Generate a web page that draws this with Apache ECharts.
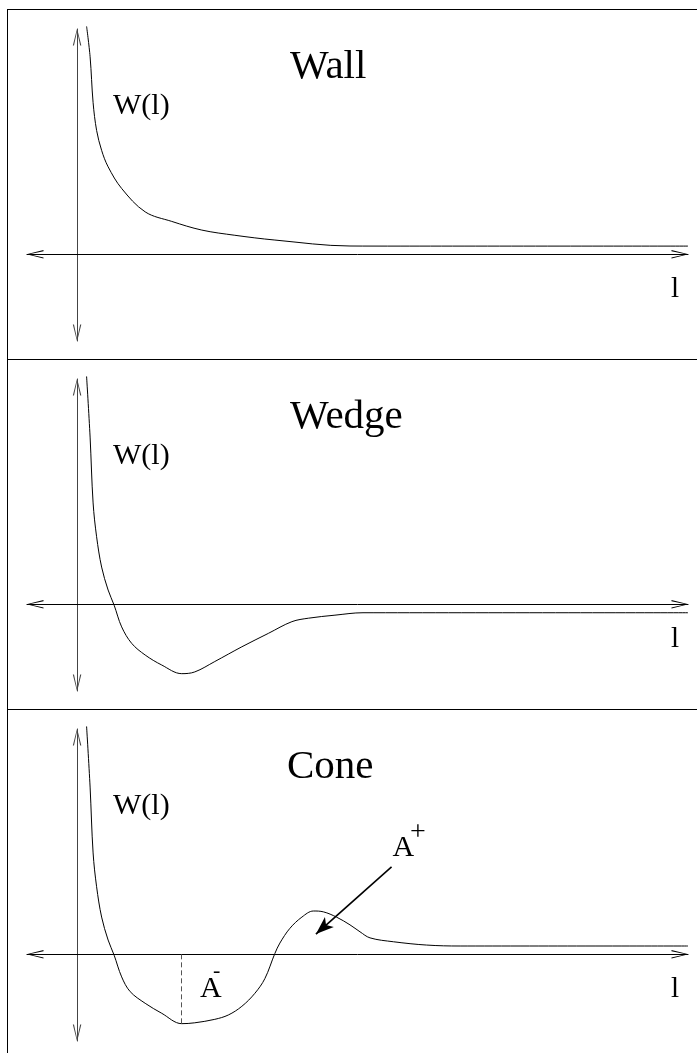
<!DOCTYPE html>
<html>
<head>
<meta charset="utf-8">
<title>W(l): Wall, Wedge, Cone</title>
<script src="https://cdn.jsdelivr.net/npm/echarts@6/dist/echarts.min.js"></script>
<style>
  html, body { margin: 0; padding: 0; background: #fff; }
  #chart { width: 697px; height: 1053px; }
</style>
</head>
<body>
<div id="chart"></div>
<script>
// panel names
const panelNames = ["Wall", "Wedge", "Cone"];

// W(l), l along the horizontal axis
const wallL = [0.19, 0.26, 0.32, 0.39, 0.49, 0.62, 0.89, 1.36, 1.89, 2.49, 3.15, 3.95, 5.45, 6.45, 12.2];
const wallW = [2.63, 2.28, 1.75, 1.43, 1.20, 1.01, 0.76, 0.49, 0.38, 0.28, 0.22, 0.165, 0.096, 0.095, 0.095];

const wedgeL = [0.19, 0.26, 0.32, 0.39, 0.49, 0.62, 0.74, 0.89, 1.09, 1.36, 1.69, 2.09, 2.35, 2.75, 3.29, 3.82, 4.29, 4.62, 5.15, 5.71, 12.2];
const wedgeW = [2.63, 1.93, 1.17, 0.78, 0.43, 0.165, -0.01, -0.26, -0.45, -0.585, -0.70, -0.80, -0.78, -0.66, -0.49, -0.335, -0.20, -0.16, -0.125, -0.097, -0.097];

const coneL = [0.19, 0.26, 0.32, 0.39, 0.49, 0.62, 0.74, 0.89, 1.06, 1.36, 1.69, 2.09, 2.35, 2.75, 3.02, 3.29, 3.55, 3.75, 3.95, 4.05, 4.25, 4.49, 4.72, 4.92, 5.18, 5.45, 5.65, 5.85, 6.32, 6.98, 7.65, 12.2];
const coneW = [2.63, 1.93, 1.17, 0.78, 0.43, 0.165, -0.01, -0.26, -0.43, -0.565, -0.68, -0.80, -0.79, -0.75, -0.70, -0.60, -0.45, -0.28, 0.01, 0.13, 0.30, 0.43, 0.50, 0.49, 0.43, 0.34, 0.26, 0.19, 0.145, 0.107, 0.096, 0.096];

// A- marker (dashed drop at the minimum) and A+ pointer
const aMinusAt = [2.09, -0.80];
const aPlusFrom = [6.28, 1.01];
const aPlusTo = [4.77, 0.234];

const curves = [
  wallL.map((l, i) => [l, wallW[i]]),
  wedgeL.map((l, i) => [l, wedgeW[i]]),
  coneL.map((l, i) => [l, coneW[i]])
];

const serif = '"Liberation Serif", "DejaVu Serif", serif';
const chevron = 'path://M4,0 L0,16 L1.1,16 L4,2.5 L6.9,16 L8,16 Z';
const panelTops = [29, 379, 729];
const panelShift = 350;

const chart = echarts.init(document.getElementById("chart"));

const grids = [], xAxes = [], yAxes = [], series = [];
panelTops.forEach((top, i) => {
	grids.push({ left: 27, right: 9, top: top, height: 312 });
	xAxes.push({
		type: 'value', gridIndex: i, min: -1, max: 12.2,
		axisLine: {
			onZero: true,
			symbol: [chevron, chevron], symbolSize: [9, 17], symbolOffset: [8, -8],
			lineStyle: { color: '#000', width: 1 }
		},
		axisTick: { show: false }, axisLabel: { show: false }, splitLine: { show: false }
	});
	yAxes.push({
		type: 'value', gridIndex: i, min: -1, max: 2.6,
		axisLine: {
			onZero: true,
			symbol: [chevron, chevron], symbolSize: [9, 17], symbolOffset: [8, -8],
			lineStyle: { color: '#444', width: 1 }
		},
		axisTick: { show: false }, axisLabel: { show: false }, splitLine: { show: false }
	});
	const s = {
		type: 'line', xAxisIndex: i, yAxisIndex: i,
		data: curves[i], showSymbol: false, smooth: 0.35, clip: false,
		lineStyle: { color: '#000', width: 1 }, silent: true
	};
	if (i === 2) {
		s.markLine = {
			silent: true, animation: false,
			label: { show: false },
			data: [
				[
					{ coord: [aMinusAt[0], 0], symbol: 'none', lineStyle: { type: [5, 3], color: '#555', width: 1 } },
					{ coord: aMinusAt, symbol: 'none' }
				],
				[
					{ coord: aPlusFrom, symbol: 'none', lineStyle: { type: 'solid', color: '#000', width: 1.6 } },
					{ coord: aPlusTo, symbol: 'arrow', symbolSize: [10, 18] }
				]
			]
		};
	}
	series.push(s);
});

// frame and texts
const graphic = [
	{ type: 'line', shape: { x1: 7.5, y1: 9, x2: 7.5, y2: 1053 }, style: { stroke: '#000', lineWidth: 1 } },
	{ type: 'line', shape: { x1: 7, y1: 9.5, x2: 697, y2: 9.5 }, style: { stroke: '#000', lineWidth: 1 } },
	{ type: 'line', shape: { x1: 7, y1: 359.5, x2: 697, y2: 359.5 }, style: { stroke: '#000', lineWidth: 1 } },
	{ type: 'line', shape: { x1: 7, y1: 709.5, x2: 697, y2: 709.5 }, style: { stroke: '#000', lineWidth: 1 } }
];
const titleX = [290, 290, 287];
panelNames.forEach((name, i) => {
	const dy = i * panelShift;
	graphic.push({ type: 'text', x: titleX[i], y: 67.5 + dy,
		style: { text: name, font: '41px ' + serif, fill: '#000', textVerticalAlign: 'middle' } });
	graphic.push({ type: 'text', x: 113, y: 106 + dy,
		style: { text: 'W(l)', font: '30px ' + serif, fill: '#000', textVerticalAlign: 'middle' } });
	graphic.push({ type: 'text', x: 671, y: 289 + dy,
		style: { text: 'l', font: '29px ' + serif, fill: '#000', textVerticalAlign: 'middle' } });
});
graphic.push(
	{ type: 'text', x: 200, y: 989, style: { text: 'A', font: '30px ' + serif, fill: '#000', textVerticalAlign: 'middle' } },
	{ type: 'text', x: 213, y: 971, style: { text: '-', font: '22px ' + serif, fill: '#000', textVerticalAlign: 'middle' } },
	{ type: 'text', x: 392.5, y: 848, style: { text: 'A', font: '30px ' + serif, fill: '#000', textVerticalAlign: 'middle' } },
	{ type: 'text', x: 418, y: 833, style: { text: '+', font: '28px ' + serif, fill: '#000', textAlign: 'center', textVerticalAlign: 'middle' } }
);

chart.setOption({
	animation: false,
	backgroundColor: '#fff',
	grid: grids,
	xAxis: xAxes,
	yAxis: yAxes,
	series: series,
	graphic: graphic
});
</script>
</body>
</html>
